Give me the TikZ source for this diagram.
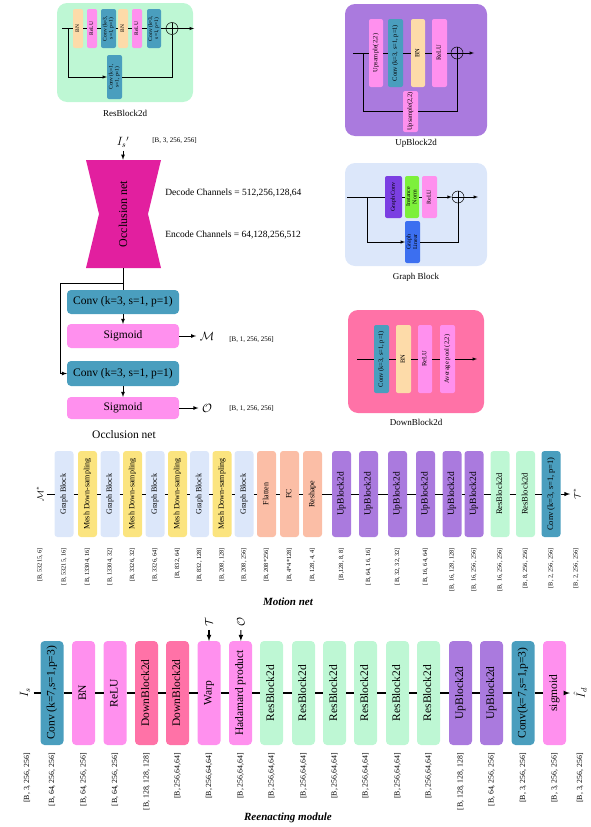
\documentclass[tikz,border=0pt]{standalone}
\usepackage{fontspec}
\setmainfont{Liberation Serif}
\usepackage{amsmath, amssymb}
\usepackage{xcolor}
\usepackage{tikz}

\definecolor{resgreen}{HTML}{BEF7D4}
\definecolor{bnpeach}{HTML}{FDDBA9}
\definecolor{relupink}{HTML}{FF90EE}
\definecolor{convteal}{HTML}{4A9EBE}
\definecolor{uppurple}{HTML}{AA7ADE}
\definecolor{downpink}{HTML}{FF72A7}
\definecolor{graphblue}{HTML}{DCE7FA}
\definecolor{meshyellow}{HTML}{FBE47F}
\definecolor{fcsalmon}{HTML}{FBBEA6}
\definecolor{occmagenta}{HTML}{E21F9F}
\definecolor{gconvpurple}{HTML}{7B3FE2}
\definecolor{normgreen}{HTML}{7DF03B}
\definecolor{linblue}{HTML}{3C6FF0}

\newcommand{\vtext}[1]{\rotatebox{90}{\begin{tabular}{@{}c@{}}#1\end{tabular}}}

\tikzset{
  blk/.style={rounded corners=2pt, inner sep=0pt, outer sep=0pt},
  card/.style={rounded corners=10pt, inner sep=0pt},
  cardlabel/.style={font=\fontsize{9}{10}\selectfont},
  rescell/.style={blk, minimum height=39pt, font=\fontsize{5.5}{6}\selectfont},
  upcell/.style={blk, minimum height=68pt, font=\fontsize{6.5}{7}\selectfont},
  gcell/.style={blk, minimum height=42pt, font=\fontsize{6}{6.5}\selectfont},
  downcell/.style={blk, minimum height=68pt, font=\fontsize{6.5}{7}\selectfont},
  occbox/.style={rounded corners=4pt, minimum width=112pt, inner sep=0pt, outer sep=0pt, font=\fontsize{11.5}{13}\selectfont},
  mcell/.style={rounded corners=3pt, minimum width=19pt, minimum height=86pt, inner sep=0pt, outer sep=0pt, font=\fontsize{8}{9}\selectfont},
  rcell/.style={rounded corners=4pt, minimum width=23pt, minimum height=104pt, inner sep=0pt, outer sep=0pt, font=\fontsize{11.5}{13}\selectfont},
  mdim/.style={rotate=90, anchor=east, inner sep=0pt, font=\fontsize{6.3}{7}\selectfont},
  rdim/.style={rotate=90, anchor=east, inner sep=0pt, font=\fontsize{7.8}{9}\selectfont},
  odim/.style={anchor=west, inner sep=0pt, font=\fontsize{7}{8}\selectfont},
  plus/.style={circle, draw, minimum size=12pt, inner sep=0pt,
    path picture={\draw (path picture bounding box.north) -- (path picture bounding box.south)
      (path picture bounding box.west) -- (path picture bounding box.east);}},
  title/.style={font=\bfseries\itshape\fontsize{11}{13}\selectfont}
}

\begin{document}
\begin{tikzpicture}[x=1pt, y=-1pt, >=latex, line width=0.5pt]
\useasboundingbox (0,0) rectangle (591,827);

% ResBlock2d
\node[card, fill=resgreen, minimum width=136pt, minimum height=99pt] (rescard) at (125,52.5) {};
\node[cardlabel] (reslabel) at (125,113) {ResBlock2d};
\node[rescell, fill=bnpeach, minimum width=10pt] (rbn1) at (78,28.5) {\vtext{BN}};
\node[rescell, fill=relupink, minimum width=10pt] (rrelu1) at (92,28.5) {\vtext{ReLU}};
\node[rescell, fill=convteal, minimum width=15pt] (rconv1) at (108.5,28.5) {\vtext{Conv (k=3,\\ s=1, p=1)}};
\node[rescell, fill=bnpeach, minimum width=10pt] (rbn2) at (123,28.5) {\vtext{BN}};
\node[rescell, fill=relupink, minimum width=10pt] (rrelu2) at (137,28.5) {\vtext{ReLU}};
\node[rescell, fill=convteal, minimum width=14pt] (rconv2) at (154,28.5) {\vtext{Conv (k=3,\\ s=1, p=1)}};
\node[plus] (rplus) at (172,28.5) {};
\node[rescell, fill=convteal, minimum width=15pt, minimum height=44pt] (rskip) at (114.5,77) {\vtext{Conv (k=1,\\ s=1, p=1)}};
\coordinate (rin) at (62,28.5);
\coordinate (rsplit) at (68,28.5);
\coordinate (rout) at (194,28.5);
\draw (rin) -- (rbn1) -- (rrelu1) -- (rconv1) -- (rbn2) -- (rrelu2) -- (rconv2) -- (rplus);
\draw[->] (rplus) -- (rout);
\draw[->] (rsplit) |- (rskip);
\draw (rskip) -| (rplus);

% UpBlock2d
\node[card, fill=uppurple, minimum width=142pt, minimum height=132pt] (upcard) at (416,70) {};
\node[cardlabel] (uplabel) at (416,143) {UpBlock2d};
\node[upcell, fill=relupink, minimum width=14pt] (uup) at (376,53) {\vtext{Upsample(2,2)}};
\node[upcell, fill=convteal, minimum width=15pt] (uconv) at (395.5,53) {\vtext{Conv (k=3, s=1, p=1)}};
\node[upcell, fill=bnpeach, minimum width=14pt] (ubn) at (418,53) {\vtext{BN}};
\node[upcell, fill=relupink, minimum width=15pt] (urelu) at (439.5,53) {\vtext{ReLU}};
\node[plus] (uplus) at (457,53) {};
\node[upcell, fill=relupink, minimum width=15pt, minimum height=41pt] (uskip) at (410.5,111.5) {\vtext{Upsample(2,2)}};
\coordinate (uin) at (353,53);
\coordinate (usplit) at (363,53);
\coordinate (uout) at (474,53);
\draw (uin) -- (uup) -- (uconv) -- (ubn) -- (urelu) -- (uplus);
\draw[->] (uplus) -- (uout);
\draw (usplit) |- (uskip);
\draw (uskip) -| (uplus);

% Graph Block
\node[card, fill=graphblue, minimum width=142pt, minimum height=103pt] (gcard) at (416,214.5) {};
\node[cardlabel] (glabel) at (416,277) {Graph Block};
\node[gcell, fill=gconvpurple, minimum width=17pt] (gconv) at (393.5,197) {\vtext{Graph Conv}};
\node[gcell, fill=normgreen, minimum width=14pt] (gnorm) at (412,197) {\vtext{Instance\\ Norm}};
\node[gcell, fill=relupink, minimum width=15pt] (grelu) at (429.5,197) {\vtext{ReLU}};
\node[plus] (gplus) at (458,197) {};
\node[gcell, fill=linblue, minimum width=15pt] (glin) at (412.5,242) {\vtext{Graph\\ Linear}};
\coordinate (gin) at (347,197);
\coordinate (gsplit) at (367,197);
\coordinate (gout) at (478,197);
\draw (gin) -- (gconv) -- (gnorm) -- (grelu);
\draw[->] (grelu) -- (gplus);
\draw[->] (gplus) -- (gout);
\draw[->] (gsplit) |- (glin);
\draw (glin) -| (gplus);

% DownBlock2d
\node[card, fill=downpink, minimum width=136pt, minimum height=103pt] (dcard) at (416,361.5) {};
\node[cardlabel] (dlabel) at (416,422) {DownBlock2d};
\node[downcell, fill=convteal, minimum width=15pt] (dconv) at (381.5,359) {\vtext{Conv (k=3, s=1, p=1)}};
\node[downcell, fill=bnpeach, minimum width=15pt] (dbn) at (403.5,359) {\vtext{BN}};
\node[downcell, fill=relupink, minimum width=14pt] (drelu) at (425,359) {\vtext{ReLU}};
\node[downcell, fill=relupink, minimum width=15pt] (dpool) at (447.5,359) {\vtext{Average pool (2,2)}};
\coordinate (din) at (357,359);
\coordinate (dout) at (477,359);
\draw (din) -- (dconv) -- (dbn) -- (drelu) -- (dpool);
\draw[->] (dpool) -- (dout);

% Occlusion net
\fill[occmagenta] (86,160) -- (161,160) -- (148,214) -- (161,268) -- (86,268) -- (99,214) -- cycle;
\node[minimum width=75pt, minimum height=108pt, inner sep=0pt, font=\fontsize{12}{14}\selectfont] (occ) at (123,214) {\rotatebox{90}{Occlusion net}};
\node[font=\fontsize{12}{14}\selectfont] (isp) at (123,142) {$I_s{}'$};
\node[odim] (ispdim) at (152,141) {[B, 3, 256, 256]};
\node[anchor=west, inner sep=0pt, font=\fontsize{9.5}{11}\selectfont] (decch) at (165,193) {Decode Channels = 512,256,128,64};
\node[anchor=west, inner sep=0pt, font=\fontsize{9.5}{11}\selectfont] (encch) at (165,235) {Encode Channels = 64,128,256,512};
\node[occbox, fill=convteal, minimum height=24pt] (oconv1) at (123,302) {Conv (k=3, s=1, p=1)};
\node[occbox, fill=relupink, minimum height=24pt] (osig1) at (123,336) {Sigmoid};
\node[occbox, fill=convteal, minimum height=25pt] (oconv2) at (123,373.5) {Conv (k=3, s=1, p=1)};
\node[occbox, fill=relupink, minimum height=22pt] (osig2) at (123,408) {Sigmoid};
\node[font=\fontsize{12}{14}\selectfont] (omask) at (207,336) {$\mathcal{M}$};
\node[font=\fontsize{12}{14}\selectfont] (oocc) at (207,408) {$\mathcal{O}$};
\node[odim] (omaskdim) at (229,340) {[B, 1, 256, 256]};
\node[odim] (ooccdim) at (229,409) {[B, 1, 256, 256]};
\node[font=\fontsize{11.5}{13}\selectfont] (occtitle) at (124,435) {Occlusion net};
\coordinate (osplit) at (123,283);
\coordinate (oleft) at (60,283);
\begin{scope}[line width=0.8pt]
\draw[->] (isp) -- (occ);
\draw (occ) -- (oconv1);
\draw[->] (osplit) -- (oleft) |- (oconv2);
\draw[->] (oconv1) -- (osig1);
\draw[->] (oconv2) -- (osig2);
\draw[->] (osig1) -- (omask);
\draw[->] (osig2) -- (oocc);
\end{scope}

% Motion net
\node[rotate=90, font=\fontsize{9}{10}\selectfont] (mstar) at (40,494) {$\mathcal{M}^*$};
\node[mcell, fill=graphblue] (m1) at (64,494) {\vtext{Graph Block}};
\node[mcell, fill=meshyellow] (m2) at (87.5,494) {\vtext{Mesh Down-sampling}};
\node[mcell, fill=graphblue] (m3) at (110,494) {\vtext{Graph Block}};
\node[mcell, fill=meshyellow] (m4) at (132.5,494) {\vtext{Mesh Down-sampling}};
\node[mcell, fill=graphblue] (m5) at (155,494) {\vtext{Graph Block}};
\node[mcell, fill=meshyellow] (m6) at (177.5,494) {\vtext{Mesh Down-sampling}};
\node[mcell, fill=graphblue] (m7) at (199.5,494) {\vtext{Graph Block}};
\node[mcell, fill=meshyellow] (m8) at (222,494) {\vtext{Mesh Down-sampling}};
\node[mcell, fill=graphblue] (m9) at (244,494) {\vtext{Graph Block}};
\node[mcell, fill=fcsalmon] (m10) at (266.5,494) {\vtext{Flatten}};
\node[mcell, fill=fcsalmon] (m11) at (289.5,494) {\vtext{FC}};
\node[mcell, fill=fcsalmon] (m12) at (312.5,494) {\vtext{Reshape}};
\node[mcell, fill=uppurple, font=\fontsize{9.5}{11}\selectfont] (m13) at (341.5,494) {\vtext{UpBlock2d}};
\node[mcell, fill=uppurple, font=\fontsize{9.5}{11}\selectfont] (m14) at (368.5,494) {\vtext{UpBlock2d}};
\node[mcell, fill=uppurple, font=\fontsize{9.5}{11}\selectfont] (m15) at (397.5,494) {\vtext{UpBlock2d}};
\node[mcell, fill=uppurple, font=\fontsize{9.5}{11}\selectfont] (m16) at (425.5,494) {\vtext{UpBlock2d}};
\node[mcell, fill=uppurple, font=\fontsize{9.5}{11}\selectfont] (m17) at (452,494) {\vtext{UpBlock2d}};
\node[mcell, fill=uppurple, font=\fontsize{9.5}{11}\selectfont] (m18) at (474,494) {\vtext{UpBlock2d}};
\node[mcell, fill=resgreen, font=\fontsize{8.5}{10}\selectfont] (m19) at (500,494) {\vtext{ResBlock2d}};
\node[mcell, fill=resgreen, font=\fontsize{8.5}{10}\selectfont] (m20) at (525.5,494) {\vtext{ResBlock2d}};
\node[mcell, fill=convteal, font=\fontsize{8.5}{10}\selectfont] (m21) at (551,494) {\vtext{Conv (k=3, s=1, p=1)}};
\node[rotate=90, font=\fontsize{9}{10}\selectfont] (tstar) at (577,494) {$\mathcal{T}^*$};
\draw[->, line width=1pt] (mstar) -- (m1) -- (m2) -- (m3) -- (m4) -- (m5) -- (m6) -- (m7) -- (m8) -- (m9) -- (m10) -- (m11)
  -- (m12) -- (m13) -- (m14) -- (m15) -- (m16) -- (m17) -- (m18) -- (m19) -- (m20) -- (m21) -- (tstar);
\node[mdim] (md0) at (40,548) {[B, 53215, 6]};
\node[mdim] (md1) at ([yshift=-11pt]m1.south) {[B, 53215, 16]};
\node[mdim] (md2) at ([yshift=-11pt]m2.south) {[B, 13304, 16]};
\node[mdim] (md3) at ([yshift=-11pt]m3.south) {[B, 13304, 32]};
\node[mdim] (md4) at ([yshift=-11pt]m4.south) {[B, 3326, 32]};
\node[mdim] (md5) at ([yshift=-11pt]m5.south) {[B, 3326, 64]};
\node[mdim] (md6) at ([yshift=-11pt]m6.south) {[B, 832, 64]};
\node[mdim] (md7) at ([yshift=-11pt]m7.south) {[B, 832, 128]};
\node[mdim] (md8) at ([yshift=-11pt]m8.south) {[B, 208, 128]};
\node[mdim] (md9) at ([yshift=-11pt]m9.south) {[B, 208, 256]};
\node[mdim] (md10) at ([yshift=-11pt]m10.south) {[B, 208*256]};
\node[mdim] (md11) at ([yshift=-11pt]m11.south) {[B, 4*4*128]};
\node[mdim] (md12) at ([yshift=-11pt]m12.south) {[B, 128, 4, 4]};
\node[mdim] (md13) at ([yshift=-11pt]m13.south) {[B,128, 8, 8]};
\node[mdim] (md14) at ([yshift=-11pt]m14.south) {[B, 64, 16, 16]};
\node[mdim] (md15) at ([yshift=-11pt]m15.south) {[B, 32, 32, 32]};
\node[mdim] (md16) at ([yshift=-11pt]m16.south) {[B, 16, 64, 64]};
\node[mdim] (md17) at ([yshift=-11pt]m17.south) {[B, 16, 128, 128]};
\node[mdim] (md18) at ([yshift=-11pt]m18.south) {[B, 16, 256, 256]};
\node[mdim] (md19) at ([yshift=-11pt]m19.south) {[B, 16, 256, 256]};
\node[mdim] (md20) at ([yshift=-11pt]m20.south) {[B, 8, 256, 256]};
\node[mdim] (md21) at ([yshift=-11pt]m21.south) {[B, 2, 256, 256]};
\node[mdim] (md22) at (576,548) {[B, 2, 256, 256]};
\node[title] (mtitle) at (288,602) {Motion net};

% Reenacting module
\node[rotate=90, font=\fontsize{12}{14}\selectfont] (is) at (25,693) {$I_s$};
\node[rcell, fill=convteal] (r1) at (52,693) {\vtext{Conv (k=7,s=1,p=3)}};
\node[rcell, fill=relupink] (r2) at (83.5,693) {\vtext{BN}};
\node[rcell, fill=relupink] (r3) at (115,693) {\vtext{ReLU}};
\node[rcell, fill=downpink] (r4) at (146.5,693) {\vtext{DownBlock2d}};
\node[rcell, fill=downpink] (r5) at (177.5,693) {\vtext{DownBlock2d}};
\node[rcell, fill=relupink] (r6) at (209,693) {\vtext{Warp}};
\node[rcell, fill=relupink] (r7) at (240.5,693) {\vtext{Hadamard product}};
\node[rcell, fill=resgreen] (r8) at (271.5,693) {\vtext{ResBlock2d}};
\node[rcell, fill=resgreen] (r9) at (303.5,693) {\vtext{ResBlock2d}};
\node[rcell, fill=resgreen] (r10) at (334.5,693) {\vtext{ResBlock2d}};
\node[rcell, fill=resgreen] (r11) at (365.5,693) {\vtext{ResBlock2d}};
\node[rcell, fill=resgreen] (r12) at (397.5,693) {\vtext{ResBlock2d}};
\node[rcell, fill=resgreen] (r13) at (428.5,693) {\vtext{ResBlock2d}};
\node[rcell, fill=uppurple] (r14) at (460.5,693) {\vtext{UpBlock2d}};
\node[rcell, fill=uppurple] (r15) at (491.5,693) {\vtext{UpBlock2d}};
\node[rcell, fill=convteal] (r16) at (523,693) {\vtext{Conv(k=7,s=1,p=3)}};
\node[rcell, fill=relupink] (r17) at (554.5,693) {\vtext{sigmoid}};
\node[rotate=90, font=\fontsize{12}{14}\selectfont] (id) at (580,693) {$\hat{I}_d$};
\node[rotate=90, font=\fontsize{11}{13}\selectfont] (twarp) at (209,622) {$\mathcal{T}$};
\node[rotate=90, font=\fontsize{11}{13}\selectfont] (ohad) at (241,622) {$\mathcal{O}$};
\draw[->, line width=1.1pt] (is) -- (r1) -- (r2) -- (r3) -- (r4) -- (r5) -- (r6) -- (r7) -- (r8) -- (r9) -- (r10) -- (r11)
  -- (r12) -- (r13) -- (r14) -- (r15) -- (r16) -- (r17) -- (id);
\draw[->, line width=1.1pt] (twarp) -- (r6);
\draw[->, line width=1.1pt] (ohad) -- (r7);
\node[rdim] (rd0) at (27,753) {[B, 3, 256, 256]};
\node[rdim] (rd1) at ([yshift=-8pt]r1.south) {[B, 64, 256, 256]};
\node[rdim] (rd2) at ([yshift=-8pt]r2.south) {[B, 64, 256, 256]};
\node[rdim] (rd3) at ([yshift=-8pt]r3.south) {[B, 64, 256, 256]};
\node[rdim] (rd4) at ([yshift=-8pt]r4.south) {[B, 128, 128, 128]};
\node[rdim] (rd5) at ([yshift=-8pt]r5.south) {[B, 256,64,64]};
\node[rdim] (rd6) at ([yshift=-8pt]r6.south) {[B, 256,64,64]};
\node[rdim] (rd7) at ([yshift=-8pt]r7.south) {[B, 256,64,64]};
\node[rdim] (rd8) at ([yshift=-8pt]r8.south) {[B, 256,64,64]};
\node[rdim] (rd9) at ([yshift=-8pt]r9.south) {[B, 256,64,64]};
\node[rdim] (rd10) at ([yshift=-8pt]r10.south) {[B, 256,64,64]};
\node[rdim] (rd11) at ([yshift=-8pt]r11.south) {[B, 256,64,64]};
\node[rdim] (rd12) at ([yshift=-8pt]r12.south) {[B, 256,64,64]};
\node[rdim] (rd13) at ([yshift=-8pt]r13.south) {[B, 256,64,64]};
\node[rdim] (rd14) at ([yshift=-8pt]r14.south) {[B, 128, 128, 128]};
\node[rdim] (rd15) at ([yshift=-8pt]r15.south) {[B, 64, 256, 256]};
\node[rdim] (rd16) at ([yshift=-8pt]r16.south) {[B, 3, 256, 256]};
\node[rdim] (rd17) at ([yshift=-8pt]r17.south) {[B, 3, 256, 256]};
\node[rdim] (rd18) at (580,753) {[B, 3, 256, 256]};
\node[title] (rtitle) at (288,818) {Reenacting module};
\end{tikzpicture}
\end{document}
